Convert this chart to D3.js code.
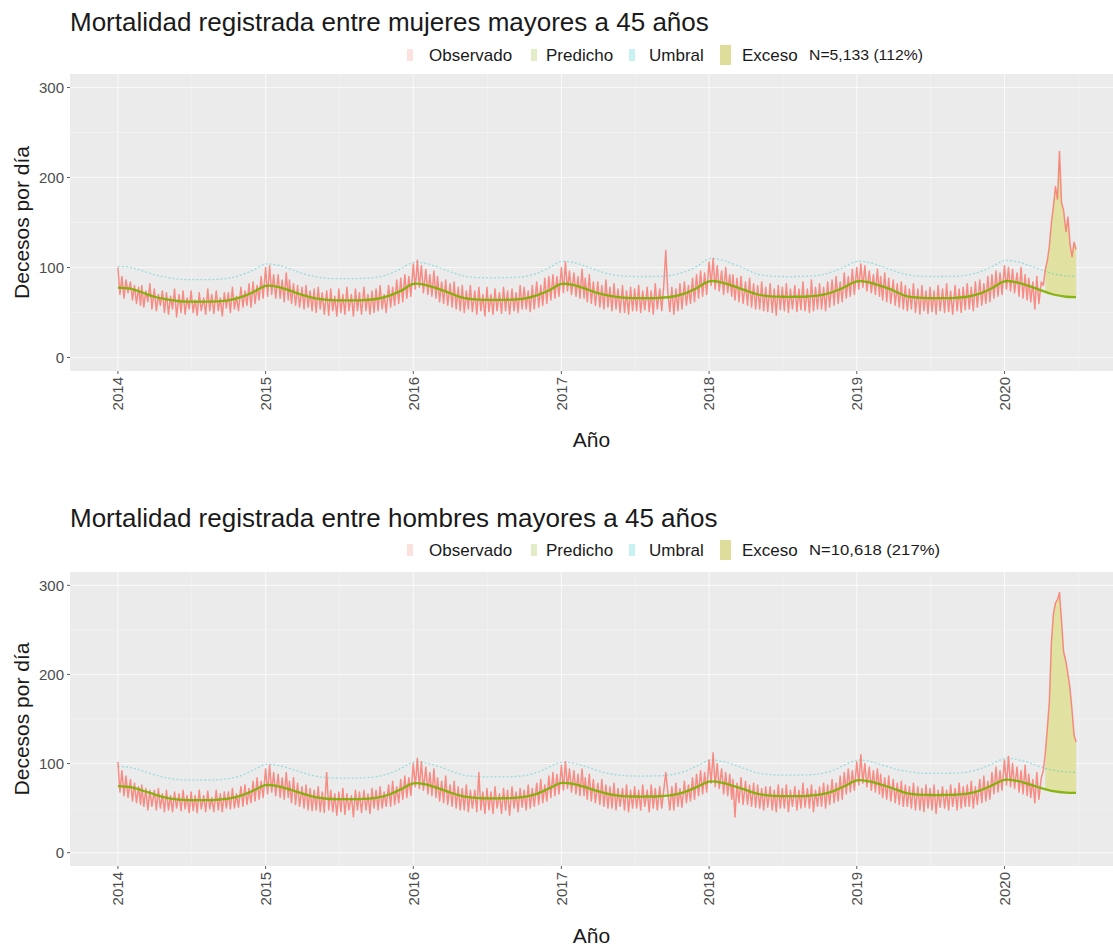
<!DOCTYPE html>
<html>
<head>
<meta charset="utf-8">
<script src="https://cdn.jsdelivr.net/npm/d3@7"></script>
<style>
  body { margin: 0; background: #ffffff; }
  svg { display: block; }
  text { font-family: "Liberation Sans", Arial, sans-serif; }
</style>
</head>
<body>
<svg id="chart" width="1113" height="947"></svg>
<script>
// ---------------------------------------------------------------------------
// Data
// ---------------------------------------------------------------------------
const yearTicks = [2014, 2015, 2016, 2017, 2018, 2019, 2020];
const yTicks = [0, 100, 200, 300];
const yMinorTicks = [50, 150, 250];
const legendLabels = ["Observado", "Predicho", "Umbral", "Exceso"];
const panelTitles = [
  "Mortalidad registrada entre mujeres mayores a 45 años",
  "Mortalidad registrada entre hombres mayores a 45 años"
];
const excessNotes = ["N=5,133 (112%)", "N=10,618 (217%)"];
const excessStart = "2020-04-11";

// Observed deaths per day, one row per month (Jan 2014 .. Jun 2020),
// sampled on days 1, 6, 11, 16, 21 and 26 of each month.
const obsDays = [1, 6, 11, 16, 21, 26];

const obsMujeres = [
  // 2014
  [100, 70, 90, 66, 86, 72], [84, 64, 80, 60, 78, 58], [80, 56, 74, 62, 82, 54],
  [76, 52, 70, 58, 74, 50], [72, 48, 68, 54, 76, 45], [70, 50, 74, 48, 66, 54],
  [74, 50, 64, 47, 72, 52], [66, 48, 76, 52, 70, 49], [74, 52, 66, 46, 72, 55],
  [72, 50, 78, 54, 68, 52], [78, 56, 74, 58, 82, 56], [84, 60, 80, 64, 90, 66],
  // 2015
  [100, 68, 102, 70, 92, 66], [92, 66, 86, 62, 94, 64], [86, 60, 82, 58, 80, 56],
  [78, 54, 80, 56, 74, 52], [76, 50, 78, 54, 72, 48], [74, 47, 76, 52, 68, 46],
  [76, 50, 70, 48, 78, 52], [70, 46, 76, 52, 72, 48], [78, 52, 70, 48, 74, 50],
  [76, 52, 80, 54, 70, 50], [80, 56, 78, 58, 86, 60], [88, 62, 92, 66, 90, 68],
  // 2016
  [104, 76, 108, 78, 102, 72], [98, 70, 92, 68, 96, 66], [90, 62, 84, 60, 86, 58],
  [82, 56, 84, 54, 78, 52], [80, 50, 74, 54, 80, 51], [74, 48, 78, 52, 70, 46],
  [78, 51, 70, 48, 76, 52], [72, 49, 78, 52, 74, 48], [76, 52, 72, 50, 80, 54],
  [78, 54, 74, 51, 80, 54], [84, 56, 80, 58, 88, 60], [90, 64, 92, 66, 90, 68],
  // 2017
  [100, 72, 106, 74, 96, 70], [94, 68, 90, 66, 98, 66], [88, 62, 92, 60, 84, 58],
  [84, 56, 80, 54, 86, 56], [78, 52, 82, 54, 76, 50], [80, 50, 74, 48, 78, 52],
  [76, 52, 80, 50, 74, 53], [78, 51, 74, 48, 82, 54], [76, 52, 80, 119, 72, 51],
  [78, 48, 76, 52, 82, 54], [84, 58, 80, 60, 88, 62], [92, 66, 96, 68, 94, 70],
  // 2018
  [106, 80, 110, 76, 102, 74], [96, 70, 100, 72, 92, 68], [92, 64, 88, 62, 90, 60],
  [84, 58, 88, 56, 82, 54], [80, 54, 84, 52, 78, 51], [82, 50, 76, 47, 80, 53],
  [78, 52, 82, 50, 76, 54], [80, 51, 76, 53, 84, 52], [76, 50, 86, 52, 78, 54],
  [82, 54, 78, 52, 84, 56], [86, 58, 90, 60, 84, 62], [94, 66, 90, 68, 98, 70],
  // 2019
  [100, 76, 104, 78, 102, 74], [96, 72, 92, 70, 98, 68], [90, 64, 94, 62, 88, 60],
  [86, 58, 82, 56, 84, 54], [80, 52, 76, 54, 82, 50], [76, 48, 80, 52, 74, 49],
  [78, 51, 74, 48, 80, 52], [76, 50, 82, 51, 74, 48], [80, 52, 76, 50, 78, 53],
  [82, 54, 78, 52, 84, 56], [86, 58, 82, 60, 90, 62], [92, 66, 96, 68, 94, 70],
  // 2020
  [102, 76, 100, 74, 98, 72], [94, 68, 100, 66, 92, 64], [88, 62, 84, 54, 90, 60],
  [84, 80, 98, 108, 124, 150], [168, 190, 176, 229, 172, 164], [140, 156, 126, 112, 128, 120]
];

const obsHombres = [
  // 2014
  [102, 68, 92, 64, 86, 62], [82, 58, 78, 56, 74, 54], [76, 52, 72, 48, 70, 52],
  [70, 48, 72, 50, 66, 46], [70, 48, 64, 46, 68, 50], [66, 47, 70, 49, 64, 45],
  [68, 47, 64, 45, 70, 49], [64, 46, 69, 49, 62, 46], [70, 48, 66, 46, 68, 50],
  [68, 49, 72, 50, 66, 51], [74, 52, 76, 54, 72, 56], [80, 58, 84, 60, 80, 62],
  // 2015
  [94, 66, 98, 68, 90, 64], [88, 62, 84, 60, 90, 62], [80, 56, 84, 54, 78, 52],
  [74, 50, 76, 48, 72, 47], [70, 48, 74, 46, 68, 45], [90, 48, 70, 46, 66, 42],
  [68, 46, 72, 43, 66, 48], [64, 40, 70, 48, 68, 45], [70, 48, 66, 44, 72, 50],
  [70, 48, 74, 50, 68, 52], [76, 52, 80, 54, 74, 56], [82, 60, 86, 62, 84, 64],
  // 2016
  [100, 74, 106, 72, 102, 70], [96, 66, 90, 64, 94, 62], [84, 58, 80, 56, 86, 54],
  [76, 52, 80, 50, 74, 48], [72, 48, 76, 46, 70, 50], [70, 46, 90, 48, 68, 44],
  [72, 48, 68, 44, 74, 50], [66, 44, 72, 48, 70, 42], [74, 50, 68, 46, 72, 51],
  [70, 48, 76, 50, 72, 52], [78, 54, 82, 56, 76, 58], [86, 62, 90, 64, 88, 66],
  // 2017
  [98, 70, 102, 72, 94, 68], [92, 66, 88, 64, 94, 64], [84, 60, 88, 58, 82, 56],
  [78, 54, 82, 52, 76, 50], [74, 50, 78, 48, 72, 52], [72, 48, 76, 46, 70, 50],
  [74, 50, 70, 48, 76, 52], [70, 46, 76, 50, 72, 48], [74, 50, 70, 90, 68, 48],
  [74, 48, 78, 52, 72, 51], [80, 56, 76, 58, 84, 60], [88, 64, 92, 66, 90, 68],
  // 2018
  [104, 78, 112, 74, 100, 72], [94, 66, 90, 64, 88, 60], [82, 40, 78, 56, 84, 54],
  [80, 54, 76, 52, 78, 51], [76, 50, 72, 48, 74, 51], [74, 48, 70, 46, 76, 50],
  [72, 50, 76, 46, 70, 52], [74, 48, 70, 50, 78, 51], [72, 50, 76, 46, 70, 52],
  [74, 52, 78, 50, 76, 54], [82, 56, 78, 58, 86, 60], [90, 66, 94, 68, 92, 70],
  // 2019
  [102, 76, 110, 78, 100, 74], [96, 70, 92, 68, 94, 66], [88, 62, 84, 60, 86, 58],
  [82, 56, 78, 54, 80, 52], [76, 52, 74, 50, 78, 48], [74, 48, 72, 46, 76, 50],
  [72, 48, 76, 44, 70, 51], [74, 50, 70, 48, 76, 52], [72, 48, 78, 50, 74, 52],
  [76, 52, 80, 50, 74, 54], [82, 56, 86, 58, 80, 60], [90, 66, 96, 68, 92, 70],
  // 2020
  [104, 76, 108, 74, 100, 72], [96, 68, 92, 66, 98, 64], [88, 62, 82, 56, 90, 60],
  [84, 92, 112, 140, 170, 236], [268, 280, 284, 292, 260, 226], [214, 200, 184, 160, 132, 124]
];

// Expected deaths (first day of each month, Jan 2014 .. Jul 2020)
const predMujeres = [
  77.7, 76.5, 72.5, 67.5, 64.5, 62.5, 62, 62, 62.3, 63.5, 67, 72.5,
  79.7, 78.5, 74.5, 69.5, 66, 64, 63.5, 63.5, 63.8, 65, 68.5, 74,
  81.7, 80.5, 76.5, 71.5, 66.5, 64.5, 64, 64, 64.3, 65.5, 69, 74.5,
  81.7, 80.5, 76.5, 71.5, 68.5, 66.5, 66, 66, 66.3, 67.5, 71, 77,
  84.7, 83.5, 79.5, 74.5, 70, 68, 67.5, 67.5, 67.8, 69, 72.5, 78,
  84.7, 83.5, 79.5, 74.5, 68.5, 66.5, 66, 66, 66.3, 67.5, 71, 77,
  84.7, 83.5, 79.5, 74.5, 70, 67.5, 67
];
const umbralMujeres = [
  101.2, 100, 96.5, 92, 89, 87, 86.5, 86.5, 86.8, 88, 91.5, 97,
  103.7, 102.5, 98.5, 93.5, 90, 88, 87.6, 87.6, 88, 89, 92.5, 98.5,
  105.7, 104.5, 100.5, 95.5, 91, 89, 88.6, 88.6, 89, 90, 93.5, 99.5,
  106.7, 105.5, 101.5, 96.5, 92.5, 90.5, 90, 90, 90.3, 91.5, 95, 101,
  109.7, 108.5, 104, 98.5, 92.5, 90.5, 90, 90, 90.3, 91.5, 95, 100.5,
  106.7, 105.5, 101.5, 96.5, 92.5, 90.5, 90, 90, 90.3, 91.5, 95, 101,
  107.7, 106.5, 102.5, 97.5, 93, 90.5, 90
];
const predHombres = [
  74.7, 73.5, 70, 65.5, 61.5, 59.5, 59, 59, 59.3, 60.5, 64, 69.5,
  75.7, 74.5, 71, 66.5, 62.5, 60.5, 60, 60, 60.3, 61.5, 65, 71,
  77.7, 76.5, 72.5, 67.5, 63.5, 61.5, 61, 61, 61.3, 62.5, 66, 72,
  78.2, 77, 73.5, 69, 65.5, 63.5, 63, 63, 63.3, 64.5, 68, 73.5,
  79.7, 78.5, 75, 70.5, 66, 64, 63.5, 63.5, 63.8, 65, 68.5, 74.5,
  81.2, 80, 76.5, 72, 67.2, 65.2, 64.7, 64.7, 65, 66.2, 69.7, 75.5,
  81.7, 80.5, 77, 72.5, 69, 67.3, 67
];
const umbralHombres = [
  96.7, 95.5, 92, 87.5, 84, 82, 81.5, 81.5, 81.8, 83, 86.5, 92.5,
  99.1, 98, 94.5, 90, 86.2, 84.2, 83.7, 83.7, 84, 85.2, 88.7, 94.5,
  101.7, 100.5, 97, 92, 87.5, 85.5, 85, 85, 85.3, 86.5, 90, 96,
  101.4, 100.2, 96.7, 92, 88.5, 86.5, 86, 86, 86.3, 87.5, 91, 97,
  103.7, 102.5, 99, 94, 89.5, 87.5, 87, 87, 87.3, 88.5, 92, 98,
  103.7, 102.5, 99, 94.5, 91.5, 89.5, 89, 89, 89.3, 90.5, 94, 99.5,
  105.7, 104.5, 101, 96, 92.5, 90.5, 90
];

// ---------------------------------------------------------------------------
// Helpers
// ---------------------------------------------------------------------------
function dailySeries(rows) {
  const out = [];
  rows.forEach((row, i) => {
    const yr = 2014 + Math.floor(i / 12), mo = i % 12;
    row.forEach((v, j) => out.push({ date: new Date(Date.UTC(yr, mo, obsDays[j])), value: v }));
  });
  return out;
}
function monthlySeries(vals) {
  return vals.map((v, i) => ({
    date: new Date(Date.UTC(2014 + Math.floor(i / 12), i % 12, 1)), value: v
  }));
}

const COL = {
  obs: "#F8766D", pred: "#7CAE00", umbral: "#00BFC4", excess: "#E1E1A2",
  panel: "#EBEBEB", axisText: "#4D4D4D", title: "#1A1A1A"
};

const svg = d3.select("#chart");
const W = 1113;

const panels = [
  { title: panelTitles[0], note: excessNotes[0], obs: obsMujeres, pred: predMujeres, umbral: umbralMujeres,
    titleY: 31, legendY: 55, top: 74, bottom: 371, xTitleY: 447 },
  { title: panelTitles[1], note: excessNotes[1], obs: obsHombres, pred: predHombres, umbral: umbralHombres,
    titleY: 527, legendY: 550, top: 572, bottom: 866, xTitleY: 943 }
];

const plotLeft = 70, plotRight = 1124;

panels.forEach((p, pi) => {
  const obs = dailySeries(p.obs);
  const pred = monthlySeries(p.pred);
  const umb = monthlySeries(p.umbral);

  const ext = d3.extent(obs, d => d.date);
  const span = ext[1] - ext[0];
  const x = d3.scaleUtc()
    .domain([new Date(+ext[0] - span * 0.05), new Date(+ext[1] + span * 0.05)])
    .range([plotLeft, plotRight]);
  const y = d3.scaleLinear().domain([-15, 315]).range([p.bottom, p.top]);

  const g = svg.append("g");

  // title
  g.append("text").attr("x", 70).attr("y", p.titleY)
    .attr("font-size", 26).attr("fill", COL.title).text(p.title);

  // legend
  const keyX = [407, 531, 629, 720];
  const textX = [429, 546, 649, 742];
  const keyCols = [COL.obs, COL.pred, COL.umbral];
  legendLabels.forEach((lab, i) => {
    if (i < 3) {
      g.append("rect").attr("x", keyX[i]).attr("y", p.legendY - 6).attr("width", 6).attr("height", 12)
        .attr("fill", keyCols[i]).attr("opacity", 0.22);
    } else {
      g.append("rect").attr("x", keyX[i]).attr("y", p.legendY - 10).attr("width", 11).attr("height", 20)
        .attr("fill", "#DEDE9A");
    }
    g.append("text").attr("x", textX[i]).attr("y", p.legendY + 6)
      .attr("font-size", 17).attr("fill", COL.title).text(lab);
  });
  g.append("text").attr("x", 809).attr("y", p.legendY + 5)
    .attr("font-size", 15).attr("fill", COL.title)
    .attr("textLength", pi === 0 ? 114 : 131).attr("lengthAdjust", "spacingAndGlyphs")
    .text(p.note);

  // panel background
  g.append("rect").attr("x", plotLeft).attr("y", p.top)
    .attr("width", plotRight - plotLeft).attr("height", p.bottom - p.top).attr("fill", COL.panel);

  // grid
  const grid = g.append("g");
  const majorX = yearTicks.map(yr => new Date(Date.UTC(yr, 0, 1)));
  const minorX = d3.range(2013, 2021).map(yr =>
    new Date((Date.UTC(yr, 0, 1) + Date.UTC(yr + 1, 0, 1)) / 2))
    .filter(d => x(d) > plotLeft && x(d) < plotRight);
  grid.selectAll(".mnx").data(minorX).join("line")
    .attr("x1", d => x(d)).attr("x2", d => x(d)).attr("y1", p.top).attr("y2", p.bottom)
    .attr("stroke", "#fff").attr("stroke-width", 0.6).attr("opacity", 0.55);
  grid.selectAll(".mny").data(yMinorTicks).join("line")
    .attr("x1", plotLeft).attr("x2", plotRight).attr("y1", d => y(d)).attr("y2", d => y(d))
    .attr("stroke", "#fff").attr("stroke-width", 0.6).attr("opacity", 0.55);
  grid.selectAll(".mjx").data(majorX).join("line")
    .attr("x1", d => x(d)).attr("x2", d => x(d)).attr("y1", p.top).attr("y2", p.bottom)
    .attr("stroke", "#fff").attr("stroke-width", 1.1).attr("opacity", 0.7);
  grid.selectAll(".mjy").data(yTicks).join("line")
    .attr("x1", plotLeft).attr("x2", plotRight).attr("y1", d => y(d)).attr("y2", d => y(d))
    .attr("stroke", "#fff").attr("stroke-width", 1.1).attr("opacity", 0.7);

  // clip to panel
  const clipId = "clip" + pi;
  svg.append("clipPath").attr("id", clipId).append("rect")
    .attr("x", plotLeft).attr("y", p.top).attr("width", plotRight - plotLeft).attr("height", p.bottom - p.top);
  const marks = g.append("g").attr("clip-path", `url(#${clipId})`);

  const lineLin = d3.line().x(d => x(d.date)).y(d => y(d.value));
  const lineSmooth = d3.line().x(d => x(d.date)).y(d => y(d.value)).curve(d3.curveCatmullRom.alpha(0.5));

  // excess area: observed above the expected curve from the start of the excess period
  const exStart = new Date(excessStart + "T00:00:00Z");
  const winStart = new Date(Date.UTC(2020, 2, 1));
  const obsPart = obs.filter(d => d.date >= winStart);
  const predPart = pred.filter(d => d.date >= winStart).slice().reverse();
  const exClip = "exclip" + pi;
  svg.append("clipPath").attr("id", exClip).append("rect")
    .attr("x", x(exStart)).attr("y", p.top)
    .attr("width", x(ext[1]) - x(exStart)).attr("height", p.bottom - p.top);
  marks.append("path")
    .attr("d", lineLin(obsPart) + lineSmooth(predPart).replace(/^M/, "L") + "Z")
    .attr("fill", COL.excess).attr("clip-path", `url(#${exClip})`);

  // data end clip for the monthly curves
  const endClip = "endclip" + pi;
  svg.append("clipPath").attr("id", endClip).append("rect")
    .attr("x", plotLeft).attr("y", p.top)
    .attr("width", x(ext[1]) - plotLeft).attr("height", p.bottom - p.top);

  // threshold
  marks.append("path").attr("d", lineSmooth(umb))
    .attr("fill", "none").attr("stroke", COL.umbral).attr("stroke-width", 1.3)
    .attr("stroke-dasharray", "2,2").attr("opacity", 0.35).attr("clip-path", `url(#${endClip})`);

  // observed
  marks.append("path").attr("d", lineLin(obs))
    .attr("fill", "none").attr("stroke", COL.obs).attr("stroke-width", 1.5)
    .attr("stroke-linejoin", "round").attr("opacity", 0.82);

  // expected
  marks.append("path").attr("d", lineSmooth(pred))
    .attr("fill", "none").attr("stroke", COL.pred).attr("stroke-width", 2.3)
    .attr("opacity", 0.9).attr("clip-path", `url(#${endClip})`);

  // y axis
  const yAxis = g.append("g");
  yAxis.selectAll("line").data(yTicks).join("line")
    .attr("x1", plotLeft - 3).attr("x2", plotLeft).attr("y1", d => y(d)).attr("y2", d => y(d))
    .attr("stroke", "#333").attr("stroke-width", 0.8);
  yAxis.selectAll("text").data(yTicks).join("text")
    .attr("x", plotLeft - 6).attr("y", d => y(d)).attr("dy", "0.35em")
    .attr("text-anchor", "end").attr("font-size", 15).attr("fill", COL.axisText).text(d => d);

  // x axis
  const xAxis = g.append("g");
  xAxis.selectAll("line").data(majorX).join("line")
    .attr("x1", d => x(d)).attr("x2", d => x(d)).attr("y1", p.bottom).attr("y2", p.bottom + 3)
    .attr("stroke", "#333").attr("stroke-width", 0.8);
  xAxis.selectAll("text").data(majorX).join("text")
    .attr("transform", d => `translate(${x(d)},${p.bottom + 6}) rotate(-90)`)
    .attr("dy", "0.35em").attr("text-anchor", "end")
    .attr("font-size", 15).attr("fill", COL.axisText).text(d => d.getUTCFullYear());

  // axis titles
  g.append("text")
    .attr("transform", `translate(29,${(p.top + p.bottom) / 2}) rotate(-90)`)
    .attr("text-anchor", "middle").attr("font-size", 21).attr("fill", COL.title)
    .text("Decesos por día");
  g.append("text").attr("x", (plotLeft + W) / 2).attr("y", p.xTitleY)
    .attr("text-anchor", "middle").attr("font-size", 21).attr("fill", COL.title).text("Año");
});
</script>
</body>
</html>
